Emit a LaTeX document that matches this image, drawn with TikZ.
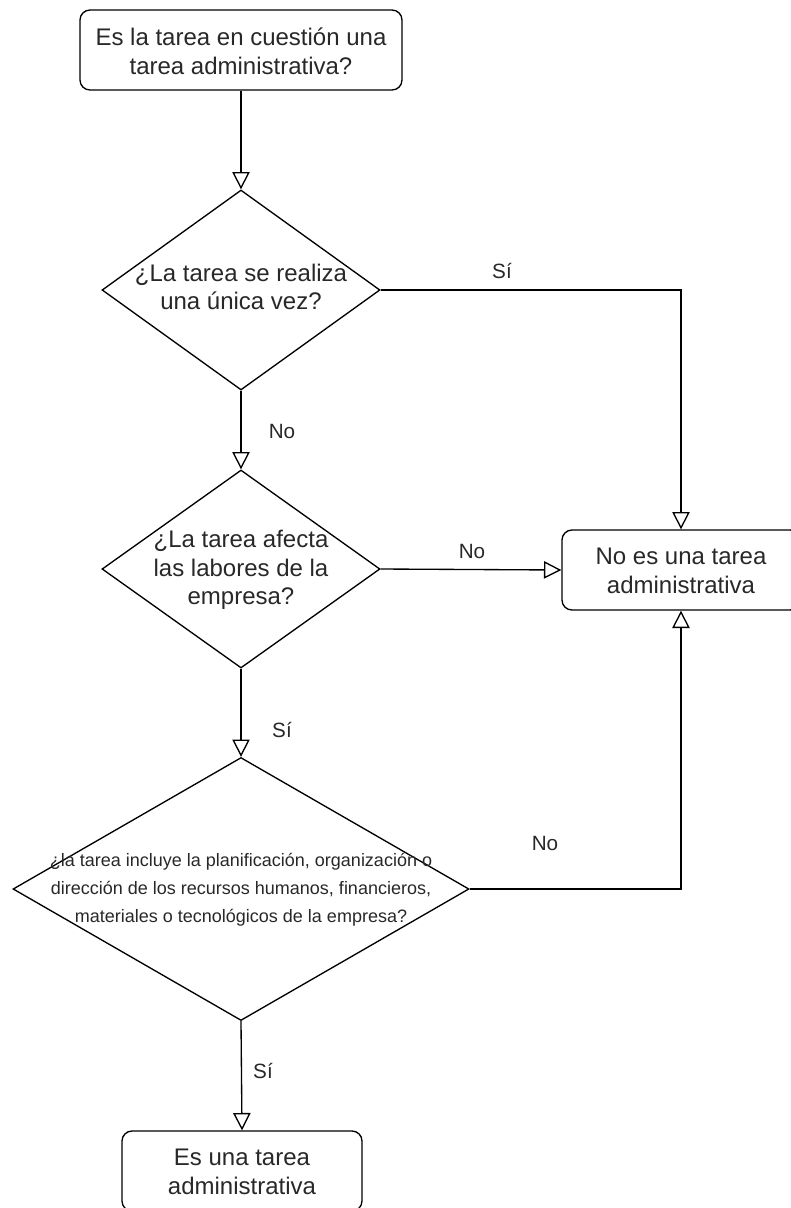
\documentclass[tikz,border=0pt]{standalone}
\usepackage{fontspec}
\setmainfont{Liberation Sans}
\usetikzlibrary{shapes.geometric,arrows.meta}
\definecolor{txt}{RGB}{40,40,40}
\tikzset{
  line/.style={line width=1pt, draw=black},
  arr/.style={line, -{Triangle[open,length=13pt,width=13pt,line width=1pt]}},
  rbox/.style={draw=black, line width=1pt, rounded corners=7.5pt, inner sep=0pt},
  dia/.style={draw=black, line width=1pt, diamond, inner sep=0pt},
  main/.style={text=txt, align=center, font=\fontsize{18}{21.5}\selectfont},
  small/.style={text=txt, align=center, font=\fontsize{13.5}{21}\selectfont},
  lab/.style={text=txt, font=\fontsize{15.5}{18}\selectfont},
}
\begin{document}
\begin{tikzpicture}[x=0.75pt,y=-0.75pt]
\useasboundingbox (0,0) rectangle (791,1208);
\clip (0,0) rectangle (791,1208);
% shapes
\node[rbox, minimum width={322*0.75pt}, minimum height={80*0.75pt}] (top) at (241,50) {};
\node[main] (topt) at (241,51) {Es la tarea en cuestión una\\tarea administrativa?};
\node[dia, minimum width={278*0.75pt}, minimum height={200*0.75pt}] (d1) at (241,290) {};
\node[main] (d1t) at (241,287) {¿La tarea se realiza\\una única vez?};
\node[dia, minimum width={278*0.75pt}, minimum height={198*0.75pt}] (d2) at (241,569) {};
\node[main] (d2t) at (241,570) {¿La tarea afecta\\las labores de la\\empresa?};
\node[rbox, minimum width={238*0.75pt}, minimum height={80*0.75pt}] (box2) at (681,570) {};
\node[main] (box2t) at (681,571) {No es una tarea\\administrativa};
\node[dia, minimum width={456*0.75pt}, minimum height={263*0.75pt}] (d3) at (241,889) {};
\node[small] (d3t) at (241,890) {¿la tarea incluye la planificación, organización o\\dirección de los recursos humanos, financieros,\\materiales o tecnológicos de la empresa?};
\node[rbox, minimum width={240*0.75pt}, minimum height={80*0.75pt}] (box3) at (242,1171) {};
\node[main] (box3t) at (242,1172) {Es una tarea\\administrativa};
% connectors
\draw[arr] (top.south) -- (d1.north);
\draw[arr] (d1.east) -| (box2.north);
\draw[arr] (d1.south) -- (d2.north);
\draw[arr] (d2.east) -- (box2.west);
\draw[arr] (d2.south) -- (d3.north);
\draw[arr] (d3.east) -| (box2.south);
\draw[arr] (d3.south) -- (box3.north);
% labels
\node[lab] (l1) at (502,271) {Sí};
\node[lab] (l2) at (282,431) {No};
\node[lab] (l3) at (472,551) {No};
\node[lab] (l4) at (282,730) {Sí};
\node[lab] (l5) at (545,843) {No};
\node[lab] (l6) at (263,1071) {Sí};
\end{tikzpicture}
\end{document}
